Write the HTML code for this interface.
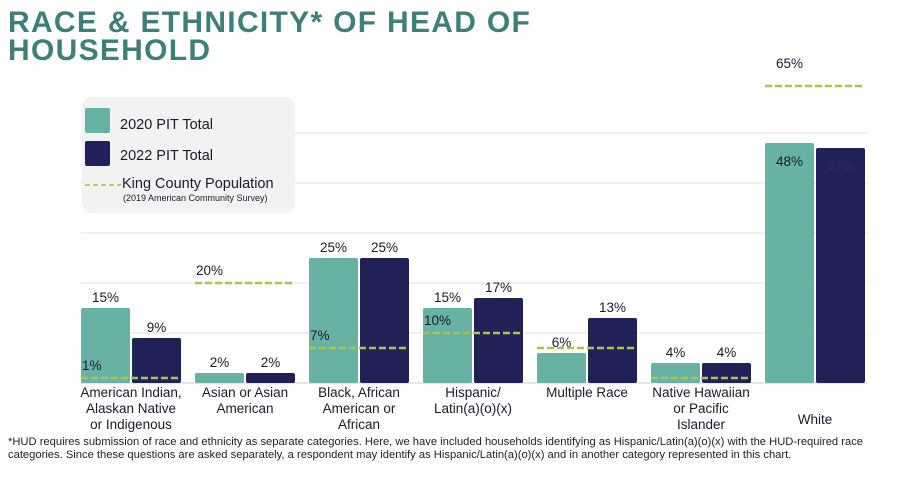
<!DOCTYPE html>
<html><head><meta charset="utf-8"><style>
body{margin:0;width:897px;height:484px;background:#fff;font-family:"Liberation Sans",sans-serif;overflow:hidden;position:relative}
.title{position:absolute;left:8px;top:9px;font-weight:900;font-size:30px;line-height:28px;color:#3e8079;letter-spacing:1.3px}
.foot{position:absolute;left:8px;top:436px;font-size:11.2px;line-height:13px;color:#222;width:885px}
svg{position:absolute;left:0;top:0}
</style></head><body>
<div class="title">RACE &amp; ETHNICITY* OF HEAD OF<br>HOUSEHOLD</div>
<svg id="c" width="897" height="484"></svg>
<div class="foot">*HUD requires submission of race and ethnicity as separate categories. Here, we have included households identifying as Hispanic/Latin(a)(o)(x) with the HUD-required race categories. Since these questions are asked separately, a respondent may identify as Hispanic/Latin(a)(o)(x) and in another category represented in this chart.</div>
<script>
const categories=[["American Indian,","Alaskan Native","or Indigenous"],["Asian or Asian","American"],["Black, African","American or","African"],["Hispanic/","Latin(a)(o)(x)"],["Multiple Race"],["Native Hawaiian","or Pacific","Islander"],["White"]];
const pit2020=[15,2,25,15,6,4,48];
const pit2022=[9,2,25,17,13,4,47];
const kingCounty=[1,20,7,10,7,1,65];
const kingCountyLabelShown=[true,true,true,true,false,false,true];
const gridTicks=[0,10,20,30,40,50];
const NS="http://www.w3.org/2000/svg",svg=document.getElementById('c');
const base=383,ppu=5,x0=81,gw=114,bw=49;
const y=v=>base-v*ppu;
const yk=v=>v>58?86:y(v);
function mk(t,a,txt){const e=document.createElementNS(NS,t);for(const k in a)e.setAttribute(k,a[k]);if(txt!=null)e.textContent=txt;svg.appendChild(e);return e;}
gridTicks.forEach(t=>{const g=mk('line',{x1:81,x2:868,y1:y(t),y2:y(t),stroke:t?'#e2e2e2':'#ccc','stroke-width':1});

});
categories.forEach((c,i)=>{
 const gx=x0+i*gw;
 const b1=mk('rect',{x:gx,y:y(pit2020[i]),width:bw,height:pit2020[i]*ppu,fill:'#67b2a5',rx:2});
 
 
 const b2=mk('rect',{x:gx+bw+2,y:y(pit2022[i]),width:bw,height:pit2022[i]*ppu,fill:'#1f2157',rx:2});
 
 
 const inside=pit2020[i]>40;
 const l1=mk('text',{x:gx+bw/2,y:inside?y(pit2020[i])+23:y(pit2020[i])-6,'text-anchor':'middle','font-size':13.5,fill:'#1a1a2e'},pit2020[i]+'%');
 
 
 const l2=mk('text',{x:gx+bw*1.5+2,y:inside?y(pit2022[i])+23:y(pit2022[i])-6,'text-anchor':'middle','font-size':13.5,fill:inside?'#2a2c60':'#1a1a2e'},pit2022[i]+'%');
 
 
 const ky=yk(kingCounty[i]);
 const d=mk('line',{x1:gx,x2:gx+2*bw+2,y1:ky,y2:ky,stroke:'#a9c64a','stroke-width':2.5,'stroke-dasharray':'7,3'});
 
 
 if(kingCountyLabelShown[i]){
 const big=kingCounty[i]>58;
 const kl=mk('text',{x:big?gx+bw/2:gx+1,y:big?ky-18:ky-8,'text-anchor':big?'middle':'start','font-size':13.5,fill:'#1a1a2e'},kingCounty[i]+'%');
 
 
 }
 const cy=c.length==1&&i==6?424:397;
 c.forEach((s,j)=>{const t=mk('text',{x:gx+bw+1,y:cy+j*16,'text-anchor':'middle','font-size':13.5,fill:'#1a1a2e'},s);
 
 });
});
const lg=mk('rect',{x:82,y:97,width:213,height:116,rx:10,fill:'#f2f2f2'});


[['#67b2a5','2020 PIT Total',108,124],['#1f2157','2022 PIT Total',141,155]].forEach(a=>{
 const r=mk('rect',{x:85,y:a[2],width:25,height:25,fill:a[0],rx:2});
 
 
 const t=mk('text',{x:120,y:a[3]+5,'font-size':14.5,fill:'#1a1a2e'},a[1]);
 
 
});
const ll=mk('line',{x1:85,x2:121,y1:185,y2:185,stroke:'#b5cf6a','stroke-width':2,'stroke-dasharray':'5,3'});


const lt=mk('text',{x:122,y:188,'font-size':14.5,fill:'#1a1a2e'},'King County Population');


const ls=mk('text',{x:123,y:201,'font-size':9,fill:'#1a1a2e'},'(2019 American Community Survey)');


</script>
</body></html>
